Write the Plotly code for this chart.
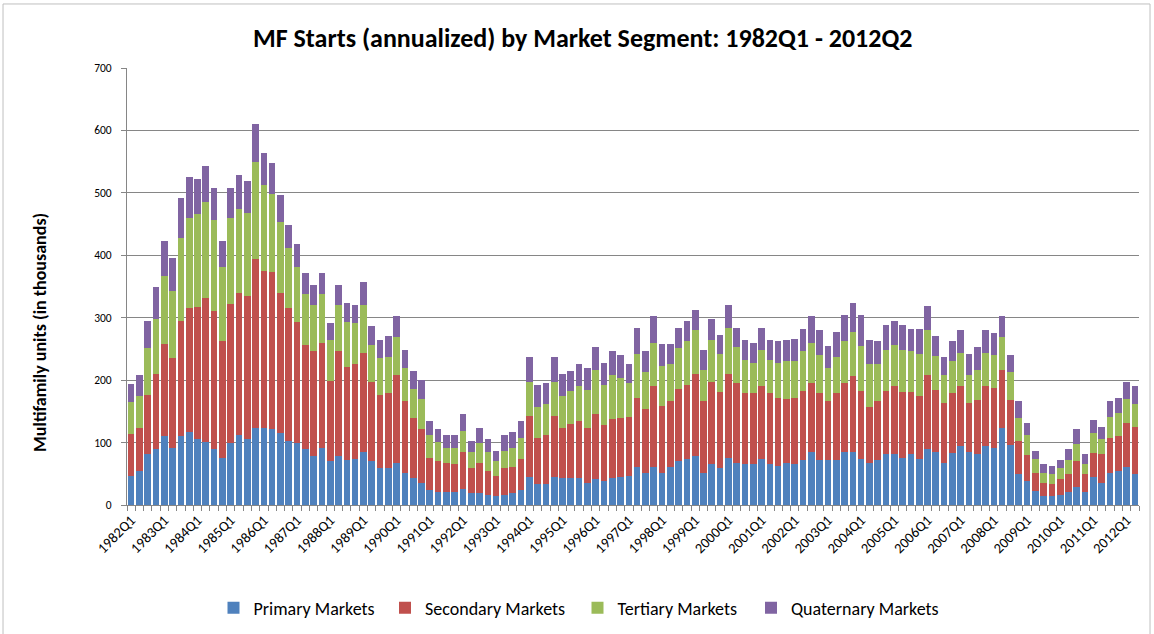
import plotly.graph_objects as go

quarters = [f"{y}Q{q}" for y in range(1982, 2013) for q in range(1, 5)][:122]

primary = [47, 54, 81, 90, 110, 92, 110, 117, 106, 101, 90, 75, 99, 112, 106, 124, 124, 121, 115, 103,
           99, 90, 79, 92, 70, 79, 72, 74, 85, 70, 59, 59, 68, 52, 43, 36, 24, 21, 21, 21,
           25, 19, 19, 16, 14, 16, 19, 24, 45, 34, 34, 45, 43, 43, 43, 36, 41, 38, 43, 45,
           47, 61, 52, 61, 52, 61, 70, 74, 79, 52, 65, 59, 76, 68, 65, 65, 74, 65, 63, 68,
           65, 72, 85, 72, 72, 72, 85, 85, 74, 68, 72, 81, 81, 76, 81, 74, 90, 85, 68, 83,
           94, 85, 81, 94, 92, 123, 96, 50, 38, 23, 14, 14, 16, 21, 29, 21, 45, 36, 52, 54,
           61, 50]
secondary = [67, 70, 96, 120, 148, 143, 185, 199, 211, 230, 221, 187, 223, 228, 229, 270, 251, 252, 225, 213,
             194, 167, 167, 168, 129, 167, 149, 152, 159, 127, 118, 120, 140, 114, 96, 85, 52, 49, 47, 44,
             60, 40, 49, 38, 33, 43, 42, 50, 98, 74, 78, 98, 80, 87, 91, 87, 105, 90, 94, 94,
             94, 111, 101, 129, 107, 105, 116, 119, 131, 114, 132, 122, 134, 127, 114, 114, 116, 114, 109, 102,
             107, 111, 110, 107, 94, 107, 110, 121, 109, 89, 94, 102, 109, 105, 100, 101, 118, 100, 96, 96,
             96, 79, 87, 96, 96, 94, 72, 53, 42, 29, 22, 20, 25, 29, 41, 29, 38, 45, 56, 56,
             71, 75]
tertiary = [51, 51, 74, 88, 109, 107, 133, 143, 149, 155, 145, 119, 137, 134, 133, 156, 137, 125, 114, 95,
            88, 81, 74, 78, 65, 74, 72, 65, 76, 60, 59, 58, 61, 54, 47, 49, 36, 31, 24, 27,
            34, 26, 31, 31, 23, 28, 31, 34, 54, 49, 50, 54, 52, 53, 56, 62, 71, 65, 71, 65,
            54, 70, 60, 70, 63, 60, 65, 69, 70, 51, 67, 61, 74, 58, 54, 49, 59, 54, 56, 60,
            58, 63, 65, 61, 54, 58, 67, 71, 72, 69, 60, 66, 67, 68, 65, 67, 72, 54, 44, 51,
            54, 44, 49, 54, 52, 52, 45, 36, 32, 22, 16, 16, 18, 22, 27, 15, 32, 25, 33, 38,
            38, 37]
quaternary = [29, 33, 44, 51, 56, 54, 64, 67, 57, 57, 52, 42, 49, 54, 51, 61, 52, 50, 43, 38,
              37, 33, 33, 33, 27, 33, 31, 29, 38, 29, 28, 34, 33, 29, 28, 30, 22, 20, 20, 20,
              27, 18, 24, 21, 17, 25, 25, 26, 40, 36, 33, 40, 35, 32, 36, 34, 36, 35, 38, 36,
              31, 42, 33, 42, 36, 32, 33, 33, 33, 32, 34, 31, 36, 31, 31, 32, 35, 31, 34, 34,
              36, 36, 42, 40, 35, 40, 42, 47, 49, 38, 36, 40, 38, 40, 36, 40, 38, 32, 29, 32,
              36, 34, 36, 36, 35, 33, 27, 27, 20, 13, 13, 13, 13, 18, 24, 16, 21, 19, 25, 24,
              27, 28]

series = [("Primary Markets", primary, "#4F81BD"),
          ("Secondary Markets", secondary, "#C0504D"),
          ("Tertiary Markets", tertiary, "#9BBB59"),
          ("Quaternary Markets", quaternary, "#8064A2")]

FONT = "Carlito, Calibri, Lato, Arial, sans-serif"
idx = list(range(len(quarters)))
legend_ids = ["legend", "legend2", "legend3", "legend4"]
legend_left_px = [213.5, 385, 577.5, 751]

fig = go.Figure()
for (name, vals, col), lid in zip(series, legend_ids):
    fig.add_trace(go.Bar(x=idx, y=vals, name=name, legend=lid, showlegend=True,
                         marker=dict(color=col, line=dict(width=0)),
                         customdata=quarters))

legend_layouts = {
    lid: dict(orientation="h", xref="container", yref="container", visible=True,
              x=px / 1154, xanchor="left", y=1 - 608 / 634, yanchor="middle",
              font=dict(size=18, family=FONT), itemwidth=30, bgcolor="rgba(0,0,0,0)")
    for lid, px in zip(legend_ids, legend_left_px)
}

fig.update_layout(
    barmode="stack", bargap=0.2, showlegend=True,
    width=1154, height=634,
    paper_bgcolor="white", plot_bgcolor="white",
    margin=dict(l=127, r=15, t=68, b=129, autoexpand=False),
    font=dict(family=FONT, color="black"),
    title=dict(text="<b>MF Starts (annualized) by Market Segment: 1982Q1 - 2012Q2</b>",
               x=0.505, xref="container", xanchor="center",
               y=0.94, yref="container", yanchor="middle",
               font=dict(size=26, family=FONT)),
    shapes=[dict(type="rect", xref="paper", yref="paper", x0=-0.1225, x1=1.0109, y0=-0.309, y1=1.1465,
                 line=dict(color="#BFBFBF", width=1), layer="below")],
    annotations=[dict(text="<b>Multifamily units (in thousands)</b>", textangle=-90,
                      xref="paper", yref="paper", x=-0.086, y=0.396,
                      xanchor="center", yanchor="middle", showarrow=False,
                      font=dict(size=18, family=FONT))],
    **legend_layouts,
)
fig.update_xaxes(
    range=[-0.5, len(quarters) - 0.5], automargin=False,
    tickmode="array", tickvals=idx[::4], ticktext=quarters[::4],
    tickangle=-45, tickfont=dict(size=14.5),
    ticks="outside", ticklen=0, showgrid=False,
    showline=True, linecolor="#868686", linewidth=1,
    minor=dict(ticks="outside", ticklen=5, tickcolor="#868686", tick0=-0.5, dtick=1, showgrid=False),
)
fig.update_yaxes(
    range=[0, 700], dtick=100, tickfont=dict(size=11.5), automargin=False,
    showgrid=True, gridcolor="#868686", gridwidth=1,
    showline=True, linecolor="#868686", linewidth=1,
    ticks="outside", ticklen=5, tickcolor="#868686", ticklabelstandoff=7,
)
fig.write_html("out.html", config={"displayModeBar": False},
               post_script="document.body.style.margin='0';")
